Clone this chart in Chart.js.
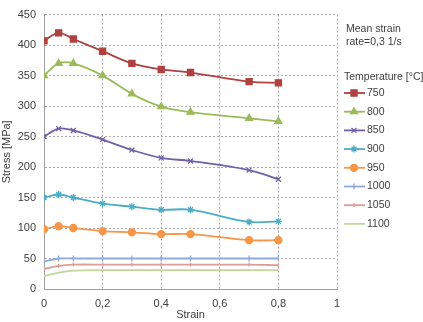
<!DOCTYPE html>
<html>
<head>
<meta charset="utf-8">
<script src="https://cdn.jsdelivr.net/npm/chart.js@4"></script>
<style>
  html, body { margin: 0; padding: 0; background: #fff; }
  #wrap { position: relative; width: 423px; height: 322px; }
</style>
</head>
<body>
<div id="wrap"><canvas id="c" width="423" height="322"></canvas></div>
<script>
/* Stress vs strain at several temperatures, Excel-like look. */

const strains = [0, 0.05, 0.1, 0.2, 0.3, 0.4, 0.5, 0.7, 0.8];
const temperatures = ['750', '800', '850', '900', '950', '1000', '1050', '1100'];

const stress750 = [407, 420, 410, 390, 370, 360, 355, 340, 338];
const stress800 = [350, 370, 370, 350, 320, 299, 290, 280, 275];
const stress850 = [250, 263, 260, 245, 228, 215, 210, 195, 180];
const stress900 = [150, 155, 150, 140, 135, 130, 130, 110, 111];
const stress950 = [98, 103, 100, 95, 93, 90, 90, 80, 80];
const stress1000 = [45, 50, 50, 50, 50, 50, 50, 50, 50];
const stress1050 = [33, 38, 40, 40, 40, 40, 40, 40, 39];
const stress1100 = [21, 27, 30, 31, 31, 31, 31, 31, 31];

const yTicks = [0, 50, 100, 150, 200, 250, 300, 350, 400, 450];
const xTicks = [0, 0.2, 0.4, 0.6, 0.8, 1];

const noteLines = ['Mean strain', 'rate=0,3 1/s'];
const legendTitle = 'Temperature [°C]:';

const FONT = '"Liberation Sans", Arial, sans-serif';
const TXT = '#404040';
const GRID = '#aaaaaa';

// colour, marker, marker size, rotation
const styles = [
  ['#b0413e', 'rect', 4.3, 0],
  ['#9bbb59', 'triangle', 4, 0],
  ['#7060a8', 'crossRot', 3.5, 0],
  ['#4bacc6', 'star', 3.5, 0],
  ['#f79646', 'circle', 3.5, 0],
  ['#8ea9db', 'line', 3, 90],
  ['#e09a98', 'line', 2, 90],
  ['#c4d79b', 'circle', 0, 0],
];
const series = [stress750, stress800, stress850, stress900, stress950, stress1000, stress1050, stress1100];

const datasets = series.map((vals, i) => {
  const [color, shape, size, rot] = styles[i];
  return {
    label: temperatures[i],
    data: strains.map((x, j) => ({ x, y: vals[j] })),
    borderColor: color,
    backgroundColor: color,
    borderWidth: 1.8,
    pointStyle: shape,
    pointRadius: size,
    pointRotation: rot,
    pointBorderWidth: 1.3,
    pointHoverRadius: size,
    tension: 0.35,
  };
});

// Legend + note text drawn on the right, like Excel's.
const sideLegend = {
  id: 'sideLegend',
  afterDraw(chart) {
    const ctx = chart.ctx;
    ctx.save();
    ctx.fillStyle = TXT;
    ctx.font = '10.5px ' + FONT;
    ctx.textBaseline = 'middle';
    ctx.textAlign = 'left';
    ctx.fillText(noteLines[0], 346, 29);
    ctx.fillText(noteLines[1], 346, 42);
    ctx.fillText(legendTitle, 344, 77);
    chart.data.datasets.forEach((ds, i) => {
      const y = 93 + i * 18.7;
      ctx.strokeStyle = ds.borderColor;
      ctx.lineWidth = 1.8;
      ctx.beginPath();
      ctx.moveTo(344, y);
      ctx.lineTo(365, y);
      ctx.stroke();
      if (ds.pointRadius > 0) {
        ctx.fillStyle = ds.backgroundColor;
        ctx.strokeStyle = ds.borderColor;
        ctx.lineWidth = ds.pointBorderWidth;
        Chart.helpers.drawPoint(ctx, {
          pointStyle: ds.pointStyle,
          rotation: ds.pointRotation,
          radius: ds.pointRadius,
          borderWidth: ds.pointBorderWidth,
        }, 354, y);
      }
      ctx.fillStyle = TXT;
      ctx.fillText(ds.label, 367, y);
    });
    ctx.restore();
  }
};

new Chart(document.getElementById('c'), {
  type: 'line',
  data: { datasets },
  plugins: [sideLegend],
  options: {
    responsive: false,
    animation: false,
    layout: { padding: { top: 9, right: 86, left: 0, bottom: 0 } },
    plugins: { legend: { display: false }, tooltip: { enabled: false } },
    scales: {
      x: {
        type: 'linear',
        min: 0, max: 1,
        afterBuildTicks: (s) => { s.ticks = xTicks.map(v => ({ value: v })); },
        afterFit: (s) => { s.height = 33; },
        ticks: {
          color: TXT, font: { family: FONT, size: 11 }, padding: 8,
          callback: (v) => String(v).replace('.', ','),
        },
        grid: { color: GRID, drawTicks: false, borderDash: [2, 2] },
        border: { color: '#a0a0a0', dash: [2, 2] },
        title: { display: true, text: 'Strain', color: TXT, font: { family: FONT, size: 11 }, padding: { top: 0, bottom: 0 } },
      },
      y: {
        min: 0, max: 450,
        afterBuildTicks: (s) => { s.ticks = yTicks.map(v => ({ value: v })); },
        afterFit: (s) => { s.width = 44; },
        ticks: { color: TXT, font: { family: FONT, size: 11 }, padding: 8 },
        grid: { color: GRID, drawTicks: false, borderDash: [2, 2] },
        border: { color: '#a0a0a0', dash: [2, 2] },
        title: { display: true, text: 'Stress [MPa]', color: TXT, font: { family: FONT, size: 11 }, padding: { top: 0, bottom: 0 } },
      },
    },
  },
});
</script>
</body>
</html>
